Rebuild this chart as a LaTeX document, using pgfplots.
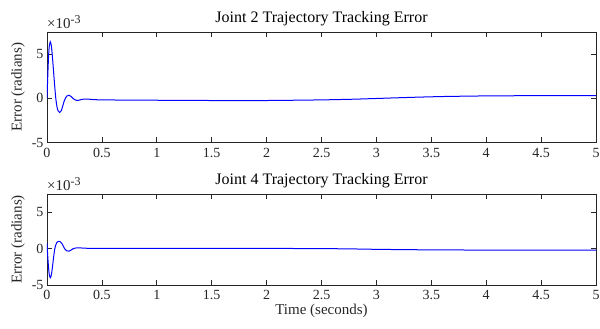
\documentclass[border=0pt]{standalone}
\usepackage{fontspec}
\setmainfont{Liberation Serif}
\usepackage{pgfplots}
\pgfplotsset{compat=1.18}
\definecolor{axgray}{rgb}{0.15,0.15,0.15}
\pgfplotsset{
  myax/.style={
    scale only axis,
    width=549pt,
    xmin=0, xmax=5, ymin=-5, ymax=7.5,
    xtick={0,0.5,...,5},
    xticklabels={0,0.5,1,1.5,2,2.5,3,3.5,4,4.5,5},
    ytick={-5,0,5},
    tick align=inside,
    major tick length=5pt,
    axis line style={axgray, line width=0.8pt},
    tick style={axgray, line width=0.6pt},
    ticklabel style={font=\fontsize{14}{16}\selectfont, text=axgray},
    /pgf/number format/assume math mode=true,
    xticklabel style={yshift=-2pt},
    ylabel={Error (radians)},
    ylabel style={font=\fontsize{15}{17}\selectfont, text=axgray},
    title style={font=\fontsize{16}{18}\selectfont, text=black, yshift=-3pt},
    every axis ylabel/.append style={yshift=-6pt},
    clip mode=individual,
  }
}
\begin{document}
\begin{tikzpicture}[x=1pt,y=1pt]
\useasboundingbox (0,0) rectangle (600,329);
\begin{axis}[myax, height=110.5pt, at={(47pt,186.5pt)}, anchor=south west,
  title={Joint 2 Trajectory Tracking Error}]
\addplot[blue, line width=1pt, smooth, tension=0.4] coordinates {
(0,0) (0.005,1.8) (0.01,3.5) (0.015,4.9) (0.02,5.8) (0.03,6.4) (0.04,5.9) (0.05,4.6) (0.06,3.0) (0.07,1.4)
(0.08,0.0) (0.09,-0.9) (0.10,-1.4) (0.115,-1.6) (0.13,-1.4) (0.145,-0.8) (0.16,-0.2)
(0.18,0.25) (0.20,0.35) (0.22,0.2) (0.24,-0.05) (0.26,-0.2) (0.28,-0.25) (0.30,-0.18)
(0.33,-0.1) (0.36,-0.08) (0.4,-0.12) (0.5,-0.18) (1,-0.22) (1.5,-0.25) (2,-0.25)
(2.5,-0.18) (2.8,-0.1) (3.0,-0.02) (3.3,0.1) (3.6,0.2) (4,0.27) (4.5,0.3) (5,0.3)
};
\node[anchor=south west, inner sep=0pt, text=axgray, font=\fontsize{15}{17}\selectfont] at (rel axis cs:0,1) [yshift=3pt] {×10\raisebox{5pt}{\fontsize{12}{13}\selectfont -3}};
\end{axis}
\begin{axis}[myax, height=91pt, at={(47pt,44pt)}, anchor=south west,
  title={Joint 4 Trajectory Tracking Error},
  xlabel={Time (seconds)},
  xlabel style={font=\fontsize{15}{17}\selectfont, text=axgray, yshift=3pt}]
\addplot[blue, line width=1pt, smooth, tension=0.4] coordinates {
(0,0.7) (0.01,-1.8) (0.02,-3.5) (0.03,-4.0) (0.04,-3.6) (0.05,-2.5) (0.06,-1.2) (0.07,-0.1)
(0.08,0.5) (0.09,0.85) (0.105,1.0) (0.12,0.95) (0.14,0.6) (0.16,0.0) (0.18,-0.3) (0.2,-0.35)
(0.22,-0.2) (0.24,0.0) (0.27,0.1) (0.3,0.1) (0.35,0.05) (0.5,0.03) (1,0.02) (2,0.02)
(2.5,0.0) (2.8,-0.05) (3.0,-0.1) (3.3,-0.15) (3.6,-0.18) (4,-0.2) (5,-0.2)
};
\node[anchor=south west, inner sep=0pt, text=axgray, font=\fontsize{15}{17}\selectfont] at (rel axis cs:0,1) [yshift=3pt] {×10\raisebox{5pt}{\fontsize{12}{13}\selectfont -3}};
\end{axis}
\end{tikzpicture}
\end{document}
